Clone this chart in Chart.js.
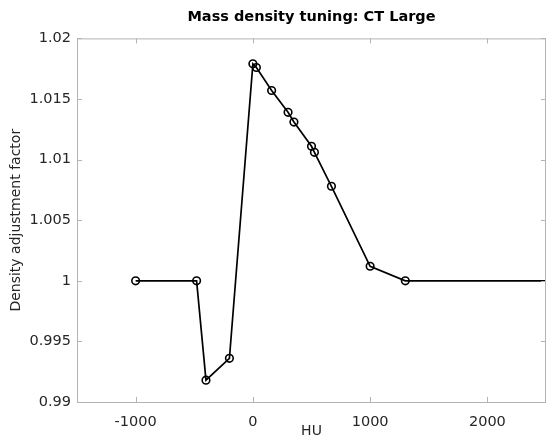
<!DOCTYPE html>
<html>
<head>
<meta charset="utf-8">
<script src="https://cdn.jsdelivr.net/npm/chart.js@4.4.1/dist/chart.umd.min.js"></script>
<style>
  html, body { margin: 0; padding: 0; background: #fff; }
  #wrap { width: 546px; height: 439px; }
</style>
</head>
<body>
<div id="wrap"><canvas id="tuning" width="546" height="439"></canvas></div>
<script>
// HU sample points and their density adjustment factor
var huValues = [-1000, -480, -400, -200, 0, 30, 160, 300, 350, 500, 525, 670, 1000, 1300, 2500];
var densityFactors = [1.0, 1.0, 0.9918, 0.9936, 1.0179, 1.0176, 1.0157, 1.0139, 1.0131, 1.0111, 1.0106, 1.0078, 1.0012, 1.0, 1.0];

var xTicks = [-1000, 0, 1000, 2000];
var yTicks = [0.99, 0.995, 1, 1.005, 1.01, 1.015, 1.02];

var points = huValues.map((hu, i) => ({ x: hu, y: densityFactors[i] }));
var lastIdx = points.length - 1;

var axisGray = '#b3b3b3';
var textGray = '#262626';

// matlab style box with inward ticks
var boxPlugin = {
  id: 'box',
  afterDraw: function(chart) {
    var c = chart.ctx, a = chart.chartArea;
    var xs = chart.scales.x, ys = chart.scales.y;
    c.save();
    c.strokeStyle = axisGray;
    c.lineWidth = 1;
    c.beginPath();
    c.moveTo(a.left + 0.5, a.top + 0.5);
    c.lineTo(a.right - 0.5, a.top + 0.5);
    c.lineTo(a.right - 0.5, a.bottom + 0.5);
    c.lineTo(a.left + 0.5, a.bottom + 0.5);
    c.closePath();
    c.stroke();
    c.beginPath();
    xTicks.forEach(function(v) {
      var px = Math.round(xs.getPixelForValue(v)) + 0.5;
      c.moveTo(px, a.bottom); c.lineTo(px, a.bottom - 5);
      c.moveTo(px, a.top); c.lineTo(px, a.top + 5);
    });
    yTicks.forEach(function(v) {
      var py = Math.round(ys.getPixelForValue(v)) + 0.5;
      c.moveTo(a.left, py); c.lineTo(a.left + 5, py);
      c.moveTo(a.right, py); c.lineTo(a.right - 5, py);
    });
    c.stroke();
    c.restore();
  }
};

var ctx = document.getElementById('tuning');
var chart = new Chart(ctx, {
  type: 'scatter',
  data: {
    datasets: [{
      data: points,
      showLine: true,
      borderColor: '#000',
      borderWidth: 1.7,
      pointStyle: 'circle',
      pointRadius: function(c) { return c.dataIndex === lastIdx ? 0 : 3.8; },
      pointBorderColor: '#000',
      pointBorderWidth: 1.6,
      pointBackgroundColor: 'rgba(0,0,0,0)',
      tension: 0
    }]
  },
  options: {
    responsive: false,
    animation: false,
    devicePixelRatio: 1,
    layout: { padding: 0, autoPadding: false },
    plugins: {
      legend: { display: false },
      tooltip: { enabled: false },
      title: {
        display: true,
        fullSize: false,
        text: 'Mass density tuning: CT Large',
        color: '#000',
        font: { family: 'DejaVu Sans', size: 14.5, weight: 'bold', lineHeight: 1.2 },
        padding: { top: 9, bottom: 12 }
      }
    },
    scales: {
      x: {
        type: 'linear',
        min: -1500,
        max: 2500,
        afterFit: function(s) { s.height = 37; s.paddingLeft = 0; s.paddingRight = 0; },
        afterBuildTicks: function(s) { s.ticks = xTicks.map(v => ({ value: v })); },
        grid: { display: false, drawTicks: false },
        border: { display: false },
        ticks: {
          color: textGray,
          padding: 12,
          maxRotation: 0,
          font: { family: 'DejaVu Sans', size: 14.5 },
          callback: function(v) { return String(v); }
        },
        title: {
          display: true,
          text: 'HU',
          color: textGray,
          font: { family: 'DejaVu Sans', size: 14, lineHeight: 1.2 },
          padding: { top: 0, bottom: -1 }
        }
      },
      y: {
        type: 'linear',
        min: 0.99,
        max: 1.02,
        afterFit: function(s) { s.width = 77; s.paddingTop = 0; s.paddingBottom = 0; },
        afterBuildTicks: function(s) { s.ticks = yTicks.map(v => ({ value: v })); },
        grid: { display: false, drawTicks: false },
        border: { display: false },
        ticks: {
          color: textGray,
          padding: 6,
          font: { family: 'DejaVu Sans', size: 14.5 },
          callback: function(v) { return String(parseFloat(v.toFixed(3))); }
        },
        title: {
          display: true,
          text: 'Density adjustment factor',
          color: textGray,
          font: { family: 'DejaVu Sans', size: 14, lineHeight: 1.2 },
          padding: { top: 8, bottom: 0 }
        }
      }
    }
  },
  plugins: [boxPlugin]
});
</script>
</body>
</html>
